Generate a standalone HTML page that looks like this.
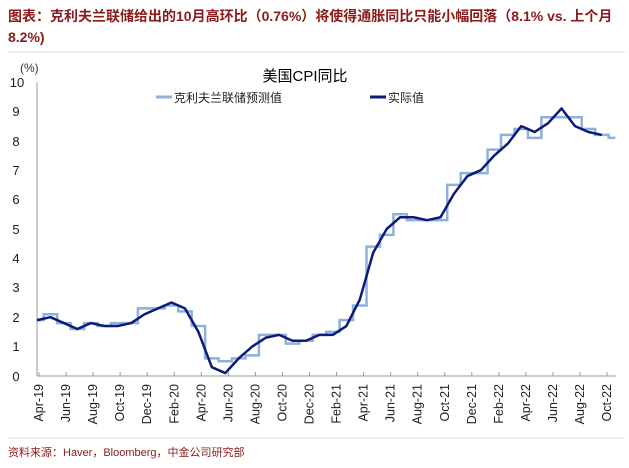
<!DOCTYPE html><html><head><meta charset="utf-8"><style>
body{margin:0;width:629px;height:463px;background:#fff;overflow:hidden;font-family:"Liberation Sans","Noto Sans CJK SC",sans-serif}
</style></head><body>
<svg width="629" height="463" xmlns="http://www.w3.org/2000/svg" font-family="Liberation Sans, Noto Sans CJK SC, sans-serif">
<text x="8" y="21" font-size="14" font-weight="bold" fill="#8b1a1a">图表：克利夫兰联储给出的10月高环比（0.76%）将使得通胀同比只能小幅回落（8.1% vs. 上个月</text>
<text x="8" y="42" font-size="14" font-weight="bold" fill="#8b1a1a">8.2%)</text>
<line x1="8" y1="52" x2="625" y2="52" stroke="#ddd"/>
<text x="305" y="81" font-size="15" text-anchor="middle" fill="#000">美国CPI同比</text>
<text x="20" y="72" font-size="12" fill="#333">(%)</text>
<line x1="156" y1="97" x2="172" y2="97" stroke="#8fb0d8" stroke-width="3"/>
<text x="174" y="102" font-size="12" fill="#222">克利夫兰联储预测值</text>
<line x1="370" y1="97" x2="386" y2="97" stroke="#0c1a7a" stroke-width="3"/>
<text x="388" y="102" font-size="12" fill="#222">实际值</text>
<g font-size="13" fill="#222" text-anchor="middle">
<text x="16" y="381">0</text><text x="16" y="351">1</text><text x="16" y="322">2</text><text x="16" y="292">3</text><text x="16" y="263">4</text><text x="16" y="234">5</text><text x="16" y="204">6</text><text x="16" y="175">7</text><text x="16" y="146">8</text><text x="16" y="116">9</text><text x="17" y="87">10</text>
</g>
<line x1="37" y1="82" x2="37" y2="376" stroke="#999"/>
<line x1="37" y1="376" x2="616" y2="376" stroke="#999"/>
<g id="lab" font-size="12.5" fill="#222"></g>
<g id="ticks" stroke="#999"></g>
<polyline id="fc" fill="none" stroke="#8fb0d8" stroke-width="2.5"/>
<polyline id="ac" fill="none" stroke="#0c1a7a" stroke-width="2.5" stroke-linejoin="round"/>
<line x1="8" y1="438" x2="625" y2="438" stroke="#ddd"/>
<text x="8" y="456" font-size="11" fill="#8b1a1a">资料来源：Haver，Bloomberg，中金公司研究部</text>
</svg>
<script>
var act=[1.9,2.0,1.8,1.6,1.8,1.7,1.7,1.8,2.1,2.3,2.5,2.3,1.5,0.3,0.1,0.6,1.0,1.3,1.4,1.2,1.2,1.4,1.4,1.7,2.6,4.2,5.0,5.4,5.4,5.3,5.4,6.2,6.8,7.0,7.5,7.9,8.5,8.3,8.6,9.1,8.5,8.3,8.2];
var fcv=act.slice();fcv.push(8.1);
var fcd=[0,0.1,0,0,0,0,0.1,0,0.2,0,-0.1,-0.1,0.2,0.3,0.4,0,-0.3,0.1,0,-0.1,0,0,0.1,0.2,-0.2,0.2,-0.2,0.1,-0.1,0,-0.1,0.3,0.1,-0.1,0.2,0.3,-0.1,-0.2,0.2,-0.3,0.3,0.1,0,0];
function X(i){return 37+13.45*i}function Y(v){return 376-29.4*v}
var a=act.map(function(v,i){return X(i)+','+Y(v)}).join(' ');
document.getElementById('ac').setAttribute('points',a);
var f=[];for(var i=0;i<fcv.length;i++){var v=fcv[i]+fcd[i];f.push(X(i-0.5<0?0:i-0.5)+','+Y(v));f.push(X(i+0.5>43?43:i+0.5)+','+Y(v));}
document.getElementById('fc').setAttribute('points',f.join(' '));
var m=['Apr','Jun','Aug','Oct','Dec','Feb'],y=19,s='',t='';
for(var k=0;k<22;k++){var mo=m[k%6];if(mo=='Feb')y++;var x=39+27.05*k;
s+='<text transform="translate('+(x+4)+',384) rotate(-90)" text-anchor="end">'+mo+'-'+y+'</text>';
t+='<line x1="'+x+'" y1="372" x2="'+x+'" y2="376"/>';}
document.getElementById('lab').innerHTML=s;document.getElementById('ticks').innerHTML=t;
</script>
</body></html>
